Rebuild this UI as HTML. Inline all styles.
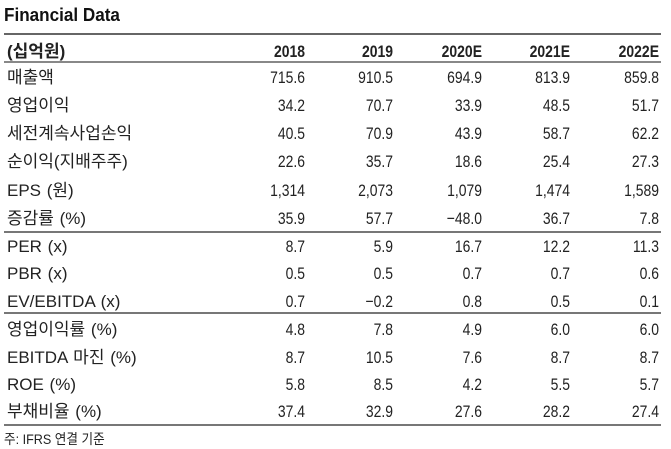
<!DOCTYPE html>
<html><head><meta charset="utf-8"><style>
body{margin:0;width:671px;height:448px;background:#fff;position:relative;overflow:hidden;font-family:"Liberation Sans","Noto Sans CJK KR",sans-serif;color:#222;}
.t{position:absolute;left:4px;top:5px;font-weight:bold;font-size:18px;color:#111;transform:scaleX(0.95);transform-origin:left;}
.l{position:absolute;left:4px;width:657px;background:#777;}
.r{position:absolute;left:0;width:671px;height:22px;font-size:17px;line-height:22px;}
.r span{position:absolute;white-space:nowrap;}
.r .n{left:7px;font-size:17px;word-spacing:1px;}
.r .c{text-align:right;width:100px;transform:scaleX(0.82);transform-origin:right;}
.h{font-weight:bold;}
.f{position:absolute;left:4px;top:429px;font-size:14px;transform:scaleX(0.9);transform-origin:left;}
</style></head><body>
<div class="t">Financial Data</div>
<div class="l" style="top:33px;height:2px;background:#666"></div>
<div class="l" style="top:61px;height:2px;background:#888"></div>
<div class="l" style="top:231px;height:1.5px"></div>
<div class="l" style="top:312px;height:1.5px"></div>
<div class="l" style="top:424px;height:2px"></div>
<div id="rows"></div>
<div class="f">주: IFRS 연결 기준</div>
<script>
var rows=[
[41,"(십억원)","2018","2019","2020E","2021E","2022E",1],
[67,"매출액","715.6","910.5","694.9","813.9","859.8"],
[95,"영업이익","34.2","70.7","33.9","48.5","51.7"],
[123,"세전계속사업손익","40.5","70.9","43.9","58.7","62.2"],
[151,"순이익(지배주주)","22.6","35.7","18.6","25.4","27.3"],
[180,"EPS (원)","1,314","2,073","1,079","1,474","1,589"],
[208,"증감률 (%)","35.9","57.7","−48.0","36.7","7.8"],
[236,"PER (x)","8.7","5.9","16.7","12.2","11.3"],
[263,"PBR (x)","0.5","0.5","0.7","0.7","0.6"],
[291,"EV/EBITDA (x)","0.7","−0.2","0.8","0.5","0.1"],
[319,"영업이익률 (%)","4.8","7.8","4.9","6.0","6.0"],
[347,"EBITDA 마진 (%)","8.7","10.5","7.6","8.7","8.7"],
[374,"ROE (%)","5.8","8.5","4.2","5.5","5.7"],
[401,"부채비율 (%)","37.4","32.9","27.6","28.2","27.4"]];
var rights=[305,393,482,570,659],h="";
rows.forEach(function(r){
 h+='<div class="r'+(r[7]?' h':'')+'" style="top:'+r[0]+'px"><span class="n">'+r[1]+'</span>';
 for(var i=0;i<5;i++)h+='<span class="c" style="left:'+(rights[i]-100)+'px">'+r[i+2]+'</span>';
 h+='</div>';});
document.getElementById("rows").innerHTML=h;
</script>
</body></html>
